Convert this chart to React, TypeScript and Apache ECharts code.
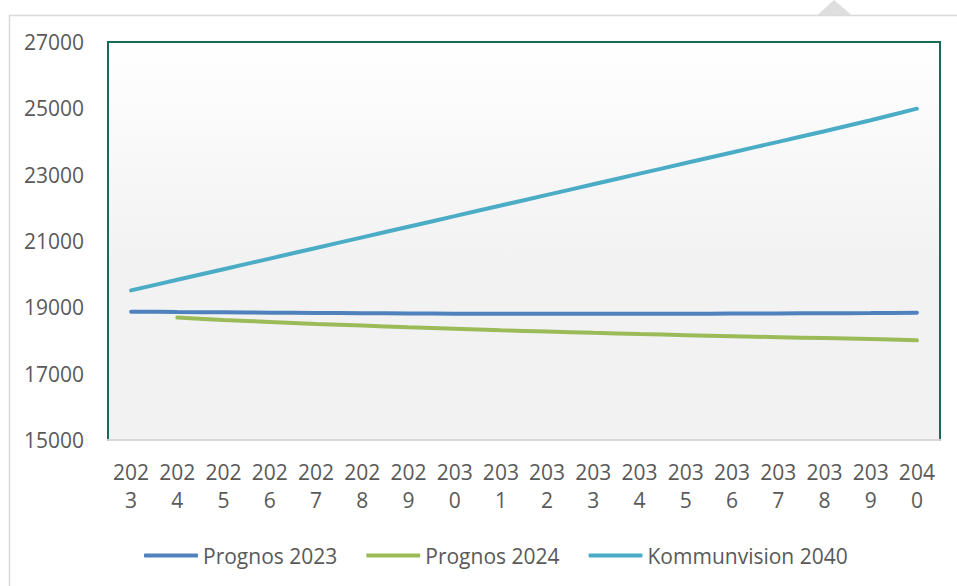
import React, { useEffect, useRef } from "react";
import * as echarts from "echarts";

const years = ["2023","2024","2025","2026","2027","2028","2029","2030","2031","2032","2033","2034","2035","2036","2037","2038","2039","2040"];
const prognos2023 = [18870, 18860, 18850, 18840, 18830, 18822, 18815, 18810, 18806, 18804, 18804, 18805, 18808, 18812, 18817, 18822, 18828, 18836];
const prognos2024 = [null, 18690, 18620, 18560, 18500, 18450, 18400, 18355, 18310, 18270, 18232, 18196, 18162, 18130, 18100, 18072, 18045, 18005];
const kommunvision2040 = [19510, 19830, 20150, 20470, 20790, 21110, 21430, 21750, 22070, 22390, 22710, 23030, 23350, 23670, 23990, 24310, 24640, 24990];
const yTicks = { min: 15000, max: 27000, interval: 2000 };

const FONT = "'Open Sans', sans-serif";
const TXT = "#595959";

export default function App() {
  const ref = useRef<HTMLDivElement>(null);
  useEffect(() => {
    document.body.style.margin = "0";
    const chart = echarts.init(ref.current!, null, { renderer: "svg" });
    chart.setOption({
      animation: false,
      backgroundColor: "#ffffff",
      textStyle: { fontFamily: FONT },
      graphic: [
        {
          type: "rect",
          shape: { x: 9.5, y: 15.5, width: 960, height: 600 },
          style: { fill: "none", stroke: "#d9d9d9", lineWidth: 1.5 },
          z: -10,
        },
        {
          type: "polygon",
          shape: { points: [[817, 15.5], [834, 0], [852, 15.5]] },
          style: { fill: "#dedede", stroke: "none" },
          z: -10,
        },
      ],
      grid: {
        left: 108,
        right: 17,
        top: 42,
        bottom: 146,
        show: true,
        borderColor: "#1a6a57",
        borderWidth: 2,
        backgroundColor: {
          type: "linear", x: 0, y: 0, x2: 0, y2: 1,
          colorStops: [
            { offset: 0, color: "#ffffff" },
            { offset: 0.55, color: "#f2f2f2" },
            { offset: 1, color: "#f2f2f2" },
          ],
        },
        containLabel: false,
      },
      legend: {
        bottom: 15,
        left: 139,
        itemWidth: 54,
        itemHeight: 4,
        itemGap: 29,
        icon: "roundRect",
        textStyle: { color: TXT, fontSize: 21, fontFamily: FONT, padding: [0, 0, 0, 0] },
        data: ["Prognos 2023", "Prognos 2024", "Kommunvision 2040"],
      },
      xAxis: {
        type: "category",
        data: years,
        boundaryGap: true,
        axisLine: { show: true, lineStyle: { color: "#d9d9d9", width: 2 } },
        axisTick: { show: false },
        axisLabel: {
          color: TXT,
          fontSize: 21,
          fontFamily: FONT,
          lineHeight: 28,
          margin: 18,
          interval: 0,
          formatter: (v: string) => v.slice(0, 3) + "\n" + v.slice(3),
        },
      },
      yAxis: {
        type: "value",
        min: yTicks.min,
        max: yTicks.max,
        interval: yTicks.interval,
        axisLine: { show: false },
        axisTick: { show: false },
        splitLine: { show: false },
        axisLabel: {
          color: TXT,
          fontSize: 21,
          fontFamily: FONT,
          margin: 24,
          padding: [10, 0, 0, 0],
          formatter: (v: number) => String(v),
        },
      },
      series: [
        {
          name: "Prognos 2023",
          type: "line",
          data: prognos2023,
          smooth: 0.3,
          showSymbol: false,
          symbol: "none",
          lineStyle: { color: "#4f81bd", width: 4, cap: "round" },
          itemStyle: { color: "#4f81bd" },
        },
        {
          name: "Prognos 2024",
          type: "line",
          data: prognos2024,
          smooth: 0.3,
          showSymbol: false,
          symbol: "none",
          lineStyle: { color: "#9bbb59", width: 4, cap: "round" },
          itemStyle: { color: "#9bbb59" },
        },
        {
          name: "Kommunvision 2040",
          type: "line",
          data: kommunvision2040,
          smooth: 0.3,
          showSymbol: false,
          symbol: "none",
          lineStyle: { color: "#4bacc6", width: 4, cap: "round" },
          itemStyle: { color: "#4bacc6" },
        },
      ],
    });
    return () => chart.dispose();
  }, []);
  return <div ref={ref} style={{ width: 957, height: 586 }} />;
}
